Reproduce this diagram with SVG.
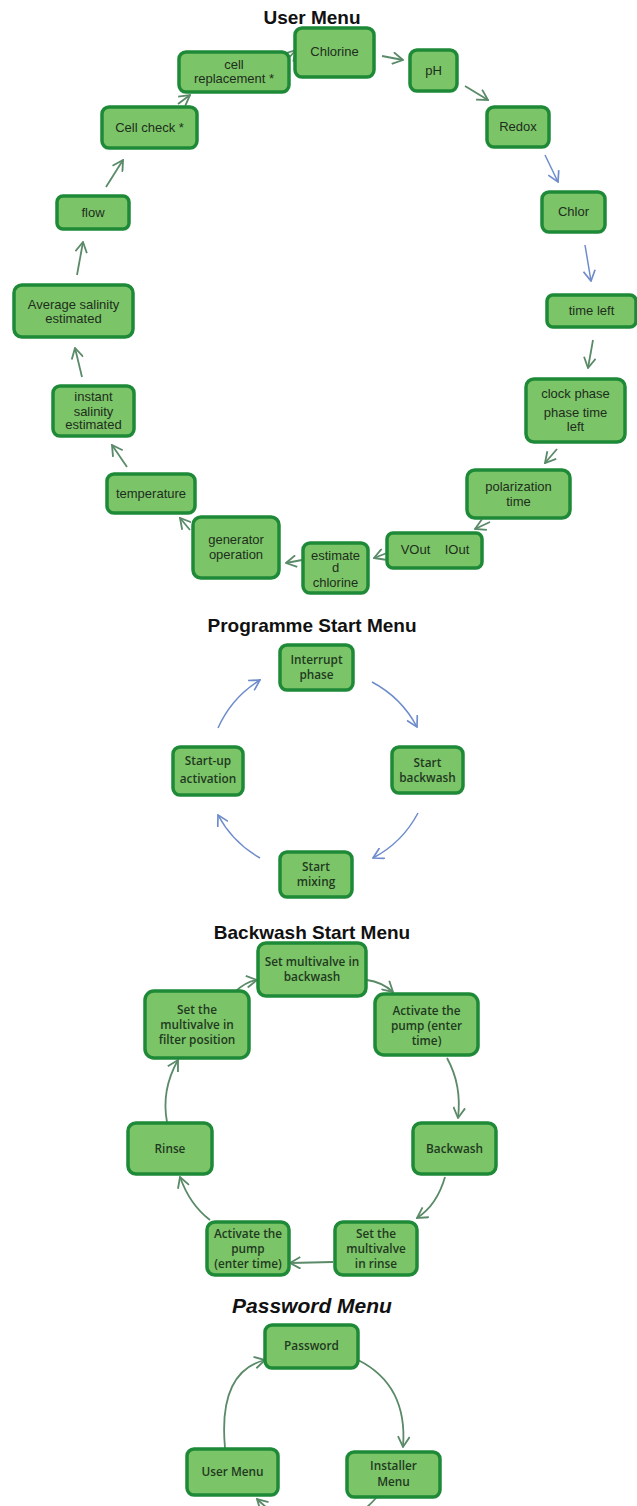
<svg xmlns="http://www.w3.org/2000/svg" width="637" height="1506" viewBox="0 0 637 1506">
<style>
.bg{fill:#ffffff}
.box{fill:#7cc468;stroke:#1e8a38;stroke-width:3.5}
.t{font-family:"Liberation Sans",Arial,sans-serif;font-size:13px;fill:#1c2e1c;text-anchor:middle}
.c{font-family:"Open Sans","Noto Sans",sans-serif;font-size:11.8px;font-weight:600;fill:#1f3a1f;text-anchor:middle}
.title{font-family:"Liberation Sans",Arial,sans-serif;font-size:19px;font-weight:bold;fill:#111111;text-anchor:middle}
.g{fill:none;stroke:#5a8a68;stroke-width:1.8}
.b{fill:none;stroke:#6e8ccc;stroke-width:1.5}
</style>
<defs>
<marker id="mG" viewBox="0 0 10 10" refX="9" refY="5" markerWidth="13" markerHeight="13" markerUnits="userSpaceOnUse" orient="auto">
<path d="M1,0.5 L9,5 L1,9.5" fill="none" stroke="#5a8a68" stroke-width="1.4"/>
</marker>
<marker id="mB" viewBox="0 0 10 10" refX="9" refY="5" markerWidth="13" markerHeight="13" markerUnits="userSpaceOnUse" orient="auto">
<path d="M1,0.5 L9,5 L1,9.5" fill="none" stroke="#6e8ccc" stroke-width="1.3"/>
</marker>
</defs>
<rect class="bg" x="0" y="0" width="637" height="1506"/>

<text class="title" x="312" y="24">User Menu</text>
<text class="title" x="312" y="632">Programme Start Menu</text>
<text class="title" x="312" y="939">Backwash Start Menu</text>
<text class="title" x="312" y="1313" style="font-style:italic;font-size:21px">Password Menu</text>

<g id="connectors">
<line class="g" x1="285" y1="62" x2="296" y2="50" marker-end="url(#mG)"/>
<line class="g" x1="178" y1="104" x2="190" y2="95" marker-end="url(#mG)"/>
<line class="g" x1="106" y1="187" x2="123" y2="160" marker-end="url(#mG)"/>
<line class="g" x1="77" y1="275" x2="83" y2="242" marker-end="url(#mG)"/>
<line class="g" x1="82" y1="377" x2="75" y2="348" marker-end="url(#mG)"/>
<line class="g" x1="127" y1="467" x2="112" y2="445" marker-end="url(#mG)"/>
<line class="g" x1="190" y1="530" x2="180" y2="518" marker-end="url(#mG)"/>
<line class="g" x1="302" y1="560" x2="286" y2="563" marker-end="url(#mG)"/>
<line class="g" x1="387" y1="553" x2="374" y2="558" marker-end="url(#mG)"/>
<line class="g" x1="490" y1="522" x2="475" y2="529" marker-end="url(#mG)"/>
<line class="g" x1="557" y1="449" x2="545" y2="463" marker-end="url(#mG)"/>
<line class="g" x1="593" y1="340" x2="588" y2="368" marker-end="url(#mG)"/>
<line class="b" x1="585" y1="245" x2="591" y2="281" marker-end="url(#mB)"/>
<line class="b" x1="545" y1="155" x2="558" y2="182" marker-end="url(#mB)"/>
<line class="g" x1="465" y1="86" x2="488" y2="100" marker-end="url(#mG)"/>
<line class="g" x1="382" y1="56" x2="403" y2="60" marker-end="url(#mG)"/>

<path class="b" d="M372,682 A108,108 0 0 1 417,727" marker-end="url(#mB)"/>
<path class="b" d="M418,813 A108,108 0 0 1 373,858" marker-end="url(#mB)"/>
<path class="b" d="M260,858 A108,108 0 0 1 218,815" marker-end="url(#mB)"/>
<path class="b" d="M218,728 A108,108 0 0 1 260,680" marker-end="url(#mB)"/>

<path class="g" d="M235,992 Q245,982 257,980" marker-end="url(#mG)"/>
<path class="g" d="M367,980 Q382,982 393,992" marker-end="url(#mG)"/>
<path class="g" d="M447,1058 Q462,1085 458,1118" marker-end="url(#mG)"/>
<path class="g" d="M445,1177 Q437,1205 417,1218" marker-end="url(#mG)"/>
<path class="g" d="M333,1262 L290,1263" marker-end="url(#mG)"/>
<path class="g" d="M210,1220 Q190,1205 180,1177" marker-end="url(#mG)"/>
<path class="g" d="M167,1122 Q161,1090 178,1060" marker-end="url(#mG)"/>

<path class="g" d="M225,1448 Q218,1372 265,1360" marker-end="url(#mG)"/>
<path class="g" d="M358,1360 Q408,1385 403,1447" marker-end="url(#mG)"/>
<path class="g" d="M377,1497 Q320,1560 257,1499" marker-end="url(#mG)"/>
</g>

<g id="n-chlorine"><rect class="box" x="295" y="28" width="79" height="49" rx="7"/><text class="t" x="334.5" y="56">Chlorine</text></g>
<g id="n-ph"><rect class="box" x="410" y="50" width="47" height="41" rx="7"/><text class="t" x="433.5" y="75">pH</text></g>
<g id="n-redox"><rect class="box" x="487" y="107" width="62" height="40" rx="7"/><text class="t" x="518" y="131">Redox</text></g>
<g id="n-chlor"><rect class="box" x="542" y="192" width="63" height="40" rx="7"/><text class="t" x="573.5" y="216">Chlor</text></g>
<g id="n-timeleft"><rect class="box" x="547" y="295" width="89" height="32" rx="6"/><text class="t" x="591.5" y="315">time left</text></g>
<g id="n-clock"><rect class="box" x="526" y="379" width="99" height="63" rx="8"/><text class="t" x="575.5" y="398">clock phase</text><text class="t" x="575.5" y="417">phase time</text><text class="t" x="575.5" y="431">left</text></g>
<g id="n-polar"><rect class="box" x="467" y="470" width="103" height="48" rx="8"/><text class="t" x="518.5" y="491">polarization</text><text class="t" x="518.5" y="506">time</text></g>
<g id="n-vout"><rect class="box" x="387" y="533" width="95" height="35" rx="6"/><text class="t" x="435" y="554" xml:space="preserve">VOut    IOut</text></g>
<g id="n-estchl"><rect class="box" x="303" y="543" width="65" height="50" rx="7"/><text class="t" x="335.5" y="560">estimate</text><text class="t" x="335.5" y="572">d</text><text class="t" x="335.5" y="587">chlorine</text></g>
<g id="n-gen"><rect class="box" x="193" y="517" width="86" height="61" rx="8"/><text class="t" x="236" y="544">generator</text><text class="t" x="236" y="559">operation</text></g>
<g id="n-temp"><rect class="box" x="107" y="474" width="88" height="39" rx="7"/><text class="t" x="151" y="498">temperature</text></g>
<g id="n-instant"><rect class="box" x="53" y="386" width="81" height="50" rx="7"/><text class="t" x="93.5" y="401">instant</text><text class="t" x="93.5" y="416">salinity</text><text class="t" x="93.5" y="429">estimated</text></g>
<g id="n-avg"><rect class="box" x="14" y="285" width="119" height="52" rx="8"/><text class="t" x="73.5" y="309">Average salinity</text><text class="t" x="73.5" y="323">estimated</text></g>
<g id="n-flow"><rect class="box" x="57" y="196" width="72" height="33" rx="6"/><text class="t" x="93" y="217">flow</text></g>
<g id="n-cellcheck"><rect class="box" x="102" y="107" width="95" height="41" rx="7"/><text class="t" x="149.5" y="132">Cell check *</text></g>
<g id="n-cellrep"><rect class="box" x="179" y="52" width="110" height="40" rx="7"/><text class="t" x="234" y="69">cell</text><text class="t" x="234" y="83">replacement *</text></g>

<g id="p-interrupt"><rect class="box" x="280" y="645" width="73" height="45" rx="7"/><text class="c" x="316.5" y="664">Interrupt</text><text class="c" x="316.5" y="679">phase</text></g>
<g id="p-backwash"><rect class="box" x="392" y="747" width="71" height="46" rx="7"/><text class="c" x="427.5" y="767">Start</text><text class="c" x="427.5" y="782">backwash</text></g>
<g id="p-startup"><rect class="box" x="173" y="747" width="70" height="48" rx="7"/><text class="c" x="208" y="765">Start-up</text><text class="c" x="208" y="783">activation</text></g>
<g id="p-mixing"><rect class="box" x="280" y="852" width="72" height="45" rx="7"/><text class="c" x="316" y="871">Start</text><text class="c" x="316" y="886">mixing</text></g>

<g id="b-setbw"><rect class="box" x="258" y="943" width="108" height="53" rx="8"/><text class="c" x="312" y="966">Set multivalve in</text><text class="c" x="312" y="981">backwash</text></g>
<g id="b-filter"><rect class="box" x="145" y="991" width="104" height="67" rx="9"/><text class="c" x="197" y="1014">Set the</text><text class="c" x="197" y="1029">multivalve in</text><text class="c" x="197" y="1044">filter position</text></g>
<g id="b-pump1"><rect class="box" x="375" y="994" width="103" height="61" rx="9"/><text class="c" x="426.5" y="1015">Activate the</text><text class="c" x="426.5" y="1030">pump (enter</text><text class="c" x="426.5" y="1045">time)</text></g>
<g id="b-rinse"><rect class="box" x="128" y="1123" width="84" height="51" rx="8"/><text class="c" x="170" y="1153">Rinse</text></g>
<g id="b-backwash"><rect class="box" x="413" y="1123" width="83" height="51" rx="8"/><text class="c" x="454.5" y="1153">Backwash</text></g>
<g id="b-pump2"><rect class="box" x="207" y="1222" width="82" height="53" rx="8"/><text class="c" x="248" y="1238">Activate the</text><text class="c" x="248" y="1253">pump</text><text class="c" x="248" y="1268">(enter time)</text></g>
<g id="b-setrinse"><rect class="box" x="335" y="1222" width="82" height="53" rx="8"/><text class="c" x="376" y="1238">Set the</text><text class="c" x="376" y="1253">multivalve</text><text class="c" x="376" y="1268">in rinse</text></g>

<g id="w-password"><rect class="box" x="265" y="1325" width="93" height="43" rx="7"/><text class="c" x="311.5" y="1350">Password</text></g>
<g id="w-user"><rect class="box" x="187" y="1449" width="91" height="46" rx="7"/><text class="c" x="232.5" y="1476">User Menu</text></g>
<g id="w-installer"><rect class="box" x="347" y="1452" width="93" height="45" rx="7"/><text class="c" x="393.5" y="1470">Installer</text><text class="c" x="393.5" y="1486">Menu</text></g>
</svg>
